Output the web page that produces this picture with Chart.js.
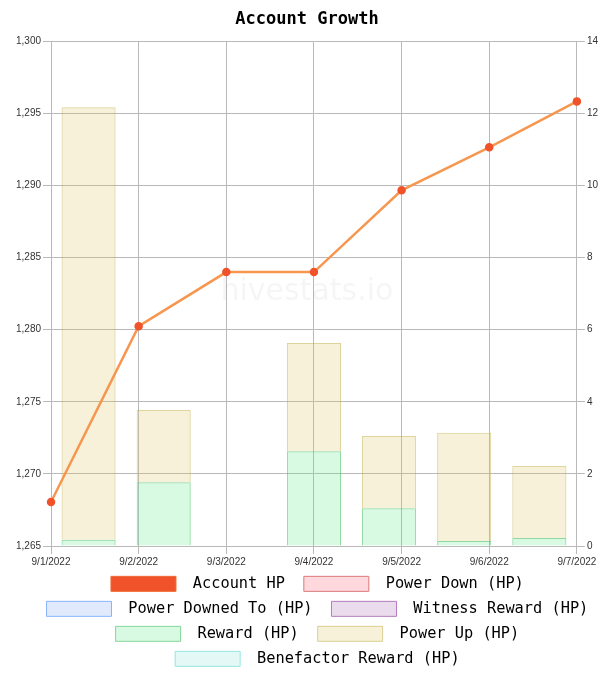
<!DOCTYPE html>
<html>
<head>
<meta charset="utf-8">
<script src="https://cdn.jsdelivr.net/npm/chart.js@4/dist/chart.umd.min.js"></script>
<style>
  html, body { margin: 0; padding: 0; background: #fff; }
  #wrap { width: 614px; height: 675px; }
</style>
</head>
<body>
<div id="wrap"><canvas id="c" width="614" height="675"></canvas></div>
<script>
const dateLabels = ['9/1/2022', '9/2/2022', '9/3/2022', '9/4/2022', '9/5/2022', '9/6/2022', '9/7/2022'];
const accountHP = [1268.05, 1280.25, 1284.0, 1284.0, 1289.67, 1292.65, 1295.84];
const powerDown = [null, null, null, null, null, null, null];
const powerDownedTo = [null, null, null, null, null, null, null];
const witnessReward = [null, null, null, null, null, null, null];
const reward = [0.17, 1.77, null, 2.63, 1.05, 0.14, 0.22];
const powerUp = [12.0, 2.0, null, 3.0, 2.0, 3.0, 2.0];
const benefactorReward = [null, null, null, null, null, null, null];
const leftTicks = [1265, 1270, 1275, 1280, 1285, 1290, 1295, 1300];
const rightTicks = [0, 2, 4, 6, 8, 10, 12, 14];

const gridColor = '#b9b9b9';
const tickFont = { family: '"Liberation Sans", Arial, sans-serif', size: 10 };
const monoFamily = '"DejaVu Sans Mono", "Liberation Mono", monospace';

function bar(label, data, bg, border) {
  return { type: 'bar', label, data, backgroundColor: bg, borderColor: border, borderWidth: 1,
           stack: 'hp', grouped: false, xAxisID: 'x2', yAxisID: 'y1' };
}

const watermark = {
  id: 'watermark',
  beforeDatasetsDraw(chart) {
    const { ctx, chartArea: a } = chart;
    ctx.save();
    ctx.font = '30px "DejaVu Sans", sans-serif';
    ctx.fillStyle = 'rgba(0,0,0,0.04)';
    ctx.textAlign = 'center';
    ctx.textBaseline = 'middle';
    ctx.fillText('hivestats.io', (a.left + a.right) / 2 - 7, (a.top + a.bottom) / 2 - 1);
    ctx.restore();
  }
};

const legendShift = {
  id: 'legendShift',
  afterLayout(chart) {
    const lg = chart.legend;
    lg.left += 15;
    lg.right += 15;
    lg.top += 1.5;
    lg.bottom += 1.5;
  }
};

new Chart(document.getElementById('c'), {
  data: {
    labels: dateLabels,
    datasets: [
      { type: 'line', label: 'Account HP', data: accountHP, borderColor: '#f7964f', backgroundColor: '#f0522a',
        pointBackgroundColor: '#f0522a', pointBorderColor: '#f0522a', pointRadius: 3, borderWidth: 2.5,
        tension: 0, xAxisID: 'x', yAxisID: 'y' },
      bar('Power Down (HP)', powerDown, 'rgba(255,100,120,0.25)', '#d87a7a'),
      bar('Power Downed To (HP)', powerDownedTo, 'rgba(100,150,240,0.2)', '#8ab4f8'),
      bar('Witness Reward (HP)', witnessReward, 'rgba(150,80,160,0.2)', '#b47cbe'),
      bar('Reward (HP)', reward, 'rgba(100,230,140,0.25)', 'rgba(70,190,100,0.6)'),
      bar('Power Up (HP)', powerUp, 'rgba(220,200,100,0.25)', 'rgba(190,170,60,0.5)'),
      bar('Benefactor Reward (HP)', benefactorReward, 'rgba(120,220,210,0.2)', '#96e6e1')
    ]
  },
  options: {
    responsive: false,
    animation: false,
    layout: { padding: { left: 14, right: 14, top: 0, bottom: 0 } },
    plugins: {
      title: { display: true, text: 'Account Growth', color: '#000',
               font: { family: monoFamily, size: 17, weight: 'bold' }, padding: { top: 9, bottom: 12 } },
      legend: {
        position: 'bottom',
        labels: {
          boxWidth: 65, boxHeight: 15, padding: 9.7, color: '#000',
          font: { family: monoFamily, size: 15.3 },
          generateLabels(chart) {
            const items = Chart.defaults.plugins.legend.labels.generateLabels(chart);
            items.forEach(it => {
              const ds = chart.data.datasets[it.datasetIndex];
              it.text = ' ' + it.text + ' ';
              it.lineWidth = 1;
              if (ds.type === 'line') { it.fillStyle = '#f0522a'; it.strokeStyle = '#f06a30'; }
            });
            return items;
          }
        }
      },
      tooltip: { enabled: false }
    },
    scales: {
      x: {
        type: 'category', labels: dateLabels, offset: false, position: 'bottom',
        grid: { color: gridColor, tickLength: 8 },
        border: { color: gridColor },
        ticks: { font: tickFont, color: '#333', maxRotation: 0, autoSkip: false, padding: 2 },
        afterFit(s) { s.height = s.height - 5; }
      },
      x2: {
        type: 'category', labels: dateLabels, offset: true, display: true, stacked: true, position: 'top',
        grid: { display: false, drawTicks: false },
        border: { display: false },
        ticks: { display: false }
      },
      y: {
        position: 'left', min: leftTicks[0], max: leftTicks[leftTicks.length - 1],
        afterBuildTicks(s) { s.ticks = leftTicks.map(v => ({ value: v })); },
        grid: { color: gridColor, tickLength: 8 },
        border: { color: gridColor },
        ticks: { font: tickFont, color: '#333', padding: 2,
                 callback: v => Number(v).toLocaleString('en-US') }
      },
      y1: {
        position: 'right', min: rightTicks[0], max: rightTicks[rightTicks.length - 1], stacked: true,
        afterBuildTicks(s) { s.ticks = rightTicks.map(v => ({ value: v })); },
        grid: { color: gridColor, drawOnChartArea: false, tickLength: 8 },
        border: { color: gridColor },
        ticks: { font: tickFont, color: '#333', padding: 2 }
      }
    }
  },
  plugins: [watermark, legendShift]
});
</script>
</body>
</html>
